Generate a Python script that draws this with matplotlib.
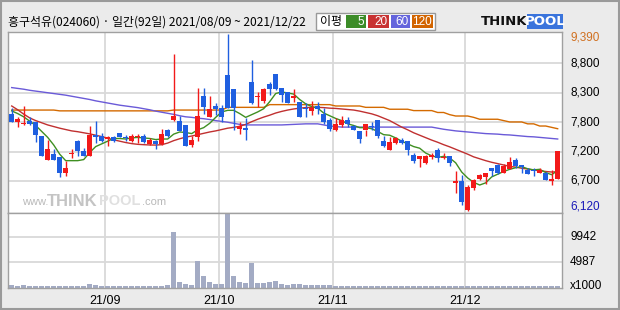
import numpy as np
import matplotlib
matplotlib.use('Agg')
import matplotlib.pyplot as plt
from matplotlib.patches import Rectangle
from matplotlib.transforms import blended_transform_factory

# ---------------- data ----------------
title = "흥구석유(024060) · 일간(92일) 2021/08/09 ~ 2021/12/22"

opens = [7910, 7760, 7720, 7790, 7770, 7510, 7070, 7170, 7110, 6830,
         7180, 7410, 7230, 7140, 7530, 7510, 7450, 7480, 7555, 7480,
         7420, 7480, 7510, 7350, 7410, 7360, 7620, 7810, 7790, 7700,
         7340, 7490, 8240, 7850, 8060, 8020, 8630, 8370, 7640, 7660,
         8510, 8220, 8160, 8470, 8650, 8390, 8310, 8200, 8140, 8030,
         7970, 8060, 7910, 7800, 7620, 7700, 7810, 7690, 7600, 7620,
         7690, 7800, 7410, 7240, 7370, 7430, 7410, 7160, 7080, 7010,
         7120, 7250, 7100, 7140, 6630, 6670, 6130, 6550, 6710, 6740,
         6920, 6970, 6830, 6900, 7060, 6970, 6870, 6880, 6830, 6830,
         6680, 6710]
highs = [8020, 7860, 8060, 7850, 7770, 7510, 7440, 7270, 7110, 7040,
         7270, 7430, 7280, 7690, 7790, 7570, 7510, 7500, 7555, 7520,
         7540, 7550, 7540, 7460, 7440, 7640, 7640, 9020, 7880, 7700,
         7510, 8400, 8390, 8240, 8110, 8080, 9390, 8370, 7770, 7830,
         8910, 8310, 8390, 8510, 8650, 8390, 8310, 8370, 8140, 8110,
         8160, 8140, 8030, 7830, 7830, 7870, 7850, 7700, 7600, 7620,
         7770, 7810, 7500, 7480, 7480, 7460, 7410, 7200, 7140, 7160,
         7200, 7280, 7200, 7140, 6850, 6790, 6600, 6720, 6800, 6830,
         6920, 6980, 6980, 7110, 7090, 6970, 6920, 6920, 6920, 6840,
         6880, 7230]
lows = [7760, 7680, 7700, 7710, 7400, 7140, 7070, 7060, 6750, 6770,
        7090, 7140, 7140, 7140, 7370, 7400, 7330, 7390, 7480, 7420,
        7400, 7380, 7380, 7340, 7260, 7340, 7490, 7790, 7600, 7330,
        7310, 7420, 7920, 7850, 7890, 7770, 8020, 7620, 7540, 7430,
        8100, 8050, 8120, 8260, 8360, 8140, 8120, 8140, 7860, 7850,
        7890, 7920, 7730, 7590, 7590, 7680, 7680, 7610, 7380, 7500,
        7620, 7460, 7310, 7240, 7360, 7360, 7160, 7010, 6940, 6990,
        7080, 7030, 7080, 6950, 6450, 6230, 6120, 6500, 6690, 6620,
        6770, 6810, 6830, 6890, 6920, 6830, 6800, 6760, 6820, 6690,
        6600, 6710]
closes = [7770, 7820, 7750, 7720, 7530, 7140, 7270, 7070, 6820, 6920,
          7200, 7220, 7140, 7520, 7480, 7420, 7480, 7420, 7490, 7460,
          7510, 7510, 7400, 7440, 7360, 7540, 7510, 7880, 7600, 7330,
          7430, 7880, 8050, 8000, 8000, 7850, 8020, 8030, 7690, 7620,
          8120, 8240, 8370, 8370, 8370, 8270, 8120, 8250, 7860, 8000,
          8020, 8000, 7770, 7630, 7720, 7810, 7720, 7620, 7450, 7720,
          7670, 7510, 7320, 7390, 7470, 7380, 7240, 7050, 7140, 7140,
          7160, 7090, 7120, 7000, 6670, 6290, 6570, 6690, 6790, 6830,
          6850, 6820, 6950, 7020, 6960, 6940, 6800, 6860, 6880, 6690,
          6710, 7220]
volumes = [530, 330, 530, 250, 250, 250, 250, 250, 250, 250,
           250, 250, 250, 730, 530, 250, 250, 250, 250, 250,
           250, 250, 250, 250, 250, 250, 530, 11030, 1120, 730,
           530, 5290, 2310, 1120, 730, 730, 14600, 2310, 1120, 930,
           4890, 930, 930, 1120, 1320, 730, 530, 730, 730, 530,
           530, 530, 530, 530, 250, 250, 250, 250, 250, 250,
           250, 250, 250, 250, 250, 250, 250, 250, 250, 250,
           250, 250, 250, 250, 250, 250, 250, 250, 250, 250,
           250, 250, 250, 250, 250, 250, 250, 250, 250, 250,
           250, 250]
ma5 = [7970, 7920, 7860, 7780, 7700, 7590, 7480, 7340, 7170, 7050,
       7050, 7050, 7070, 7200, 7310, 7360, 7410, 7460, 7460, 7450,
       7470, 7480, 7470, 7460, 7440, 7450, 7450, 7540, 7580, 7570,
       7550, 7620, 7660, 7740, 7850, 7950, 7980, 7980, 7920, 7850,
       7900, 7950, 8010, 8140, 8290, 8320, 8300, 8280, 8180, 8100,
       8050, 8020, 7930, 7880, 7830, 7790, 7730, 7700, 7660, 7660,
       7640, 7590, 7530, 7520, 7470, 7410, 7360, 7310, 7280, 7190,
       7140, 7110, 7130, 7100, 7010, 6840, 6730, 6650, 6600, 6640,
       6750, 6800, 6850, 6890, 6920, 6940, 6900, 6880, 6890, 6830,
       6790, 6870]
ma20 = [8060, 7990, 7910, 7840, 7790, 7750, 7710, 7680, 7650, 7625,
        7600, 7585, 7565, 7545, 7520, 7495, 7465, 7435, 7410, 7385,
        7365, 7352, 7345, 7340, 7338, 7345, 7375, 7420, 7455, 7485,
        7505, 7530, 7555, 7580, 7600, 7625, 7650, 7665, 7685, 7720,
        7770, 7815, 7855, 7890, 7930, 7960, 7985, 8005, 8020, 8030,
        8035, 8035, 8030, 8020, 8015, 8005, 7995, 7985, 7965, 7940,
        7915, 7880, 7835, 7790, 7730, 7670, 7620, 7565, 7520, 7475,
        7430, 7390, 7345, 7305, 7260, 7215, 7170, 7120, 7085, 7050,
        7020, 6995, 6970, 6945, 6930, 6910, 6895, 6875, 6865, 6850,
        6840, 6845]
ma60 = [8400, 8385, 8370, 8350, 8335, 8320, 8305, 8290, 8275, 8260,
        8240, 8220, 8200, 8180, 8155, 8135, 8115, 8095, 8075, 8060,
        8045, 8030, 8010, 7990, 7965, 7945, 7925, 7905, 7880, 7860,
        7850, 7835, 7825, 7810, 7790, 7775, 7760, 7740, 7720, 7710,
        7710, 7710, 7710, 7710, 7710, 7710, 7715, 7720, 7725, 7730,
        7730, 7730, 7710, 7690, 7680, 7670, 7670, 7670, 7670, 7670,
        7670, 7670, 7670, 7670, 7670, 7670, 7670, 7670, 7670, 7670,
        7670, 7650, 7630, 7615, 7600, 7590, 7580, 7570, 7560, 7550,
        7545, 7540, 7530, 7525, 7515, 7505, 7495, 7490, 7480, 7470,
        7460, 7450]
ma120 = [7985, 7985, 7985, 7985, 7985, 7985, 7985, 7985, 7970, 7970,
         7970, 7970, 7970, 7970, 7970, 7970, 7970, 7970, 7970, 7970,
         7970, 7970, 7970, 7970, 7970, 7970, 7970, 7985, 7985, 7985,
         7985, 7985, 7985, 7985, 7985, 7985, 8035, 8035, 8035, 8035,
         8035, 8035, 8035, 8085, 8085, 8085, 8085, 8085, 8085, 8085,
         8085, 8085, 8085, 8085, 8060, 8060, 8060, 8060, 8060, 8035,
         8035, 8035, 8035, 8000, 8000, 8000, 8000, 7975, 7975, 7975,
         7975, 7940, 7940, 7900, 7875, 7875, 7875, 7850, 7815, 7815,
         7815, 7815, 7790, 7765, 7765, 7765, 7730, 7730, 7690, 7690,
         7665, 7640]

month_labels = ["21/09", "21/10", "21/11", "21/12"]
month_start_idx = [16, 35, 54, 76]
price_grid = [6675, 7218, 7761, 8304, 8847]
price_grid_labels = ["6,700", "7,200", "7,800", "8,300", "8,800"]
price_max_label = "9,390"
price_min_label = "6,120"
vol_grid = [4987, 9942]
vol_grid_labels = ["4987", "9942"]
vol_unit_label = "x1000"
ma_labels = ["5", "20", "60", "120"]
legend_title = "이평"

# ---------------- styling ----------------
W, H = 620, 310
RED = '#f21a1a'
BLUE = '#1f5fe0'
MA_COLORS = ['#3f8f22', '#c03030', '#6a5ad8', '#d46a00']
LEG_COLORS = ['#3c8c28', '#c83232', '#6464dc', '#d26400']
GRID = '#d9d9d9'
SPINE = '#a0a0a0'
BG = '#ebebeb'
LBL_FONT = ['Liberation Sans', 'DejaVu Sans']
CJK = ['Noto Sans CJK KR', 'DejaVu Sans']


def fx(x):
    return x / W


def fy(y):
    return 1 - y / H


fig = plt.figure(figsize=(W / 100, H / 100), dpi=100, facecolor=BG)

left, right = 7.5, 562
ax = fig.add_axes([fx(left), fy(213), (right - left) / W, (213 - 32) / H])
axv = fig.add_axes([fx(left), fy(287.5), (right - left) / W, (287.5 - 213) / H])

x = np.arange(len(closes))
O = np.array(opens, float)
Hh = np.array(highs, float)
L = np.array(lows, float)
C = np.array(closes, float)
up = C >= O
cols = np.where(up, RED, BLUE)

xlim = (-0.7, 91.72)
for a in (ax, axv):
    a.set_xlim(*xlim)
    a.set_xticks([])
    a.set_yticks([])
    a.set_facecolor('white')
    for s in a.spines.values():
        s.set_color(SPINE)
        s.set_linewidth(1.0)
    for m in month_start_idx:
        a.axvline(m - 0.5, color=GRID, lw=1.3, zorder=0)

ax.set_ylim(6083, 9427)
axv.set_ylim(0, 14810)

for g in price_grid:
    ax.axhline(g, color=GRID, lw=1.3, zorder=0)
for g in vol_grid:
    axv.axhline(g, color=GRID, lw=1.3, zorder=0)

# watermark
wm_y = fy(202)
fig.text(fx(22), wm_y, "www.", color='#b9b9b9', fontsize=8, family=LBL_FONT,
         ha='left', va='center', zorder=1)
fig.text(fx(47), wm_y + 0.003, "THINK", color='#c4c4c4', fontsize=12,
         fontweight='bold', family=LBL_FONT, ha='left', va='center')
fig.text(fx(99), wm_y + 0.003, "POOL", color='#e0e0e0', fontsize=10.5,
         fontweight='bold', family=LBL_FONT, ha='left', va='center')
fig.text(fx(142), wm_y, ".com", color='#b9b9b9', fontsize=8, family=LBL_FONT,
         ha='left', va='center')

# moving averages
for vals, c in zip([ma120, ma60, ma20, ma5], MA_COLORS[::-1]):
    ax.plot(x, vals, color=c, lw=1.0, zorder=2)

# candles
body_lo = np.minimum(O, C)
body_h = np.abs(C - O)
min_h = 20.0
small = body_h < min_h
body_lo = np.where(small, (O + C) / 2 - min_h / 2, body_lo)
body_h = np.where(small, min_h, body_h)
ax.vlines(x, L, Hh, colors=cols, lw=1.0, zorder=3)
ax.bar(x, body_h, bottom=body_lo, width=0.8, color=cols, linewidth=0, zorder=4)

# volume
axv.bar(x, volumes, width=0.8, color='#a3abc4', linewidth=0, zorder=2)

# right-side labels
tr = blended_transform_factory(ax.transAxes, ax.transData)
lx = (570 - left) / (right - left)
for g, t in zip(price_grid, price_grid_labels):
    ax.text(lx, g, t, transform=tr, ha='left', va='center', fontsize=8.5,
            family=LBL_FONT, color='black', clip_on=False)
ax.text(lx, (213 - 37.3) / 181, price_max_label, transform=ax.transAxes,
        ha='left', va='center', fontsize=8.5, family=LBL_FONT, color='#d07020')
ax.text(lx, (213 - 206.7) / 181, price_min_label, transform=ax.transAxes,
        ha='left', va='center', fontsize=8.5, family=LBL_FONT, color='#1a1ab8')

trv = blended_transform_factory(axv.transAxes, axv.transData)
for g, t in zip(vol_grid, vol_grid_labels):
    axv.text(lx, g, t, transform=trv, ha='left', va='center', fontsize=8.5,
             family=LBL_FONT, color='black', clip_on=False)
axv.text(lx, 0.02, vol_unit_label, transform=axv.transAxes, ha='left',
         va='center', fontsize=8.5, family=LBL_FONT, color='black')

# month labels
trx = blended_transform_factory(axv.transData, axv.transAxes)
for m, t in zip(month_start_idx, month_labels):
    axv.text(m - 0.5, -(301 - 287.5) / 74.5, t, transform=trx, ha='center',
             va='center', fontsize=9, family=LBL_FONT, color='black', clip_on=False)

# title
fig.text(fx(8), fy(22.5), title, ha='left', va='center', fontsize=8.6,
         family=CJK, color='black')

# MA legend box
fig.add_artist(Rectangle((fx(316), fy(29.5)), 119 / W, 17 / H, transform=fig.transFigure,
                         facecolor='white', edgecolor='#999999', lw=1.0))
fig.text(fx(331), fy(21.5), legend_title, ha='center', va='center', fontsize=8.6,
         family=CJK, color='black')
boxes = [(346, 366), (368, 389), (391, 410), (412, 433)]
for (x0, x1), c, t in zip(boxes, LEG_COLORS, ma_labels):
    fig.add_artist(Rectangle((fx(x0), fy(28)), (x1 - x0) / W, 12.7 / H,
                             transform=fig.transFigure, facecolor=c, edgecolor='none'))
    fig.text(fx(x1 - 1.5), fy(21.7), t, ha='right', va='center', fontsize=8.5,
             family=LBL_FONT, color='white')

# THINKPOOL logo
fig.text(fx(481), fy(21.5), "THINK", ha='left', va='center', fontsize=9.5,
         fontweight='bold', family=['DejaVu Sans'], color='#111111')
fig.add_artist(Rectangle((fx(527), fy(28.5)), 36 / W, 14 / H, transform=fig.transFigure,
                         facecolor='#3a74dc', edgecolor='none'))
fig.text(fx(545), fy(21.5), "POOL", ha='center', va='center', fontsize=9.5,
         fontweight='bold', family=['DejaVu Sans'], color='white')

# outer border
fig.add_artist(Rectangle((0.0015, 0.003), 0.997, 0.994, transform=fig.transFigure,
                         facecolor='none', edgecolor='#9a9a9a', lw=1.5))

fig.savefig('out.png', dpi=100, facecolor=BG)
